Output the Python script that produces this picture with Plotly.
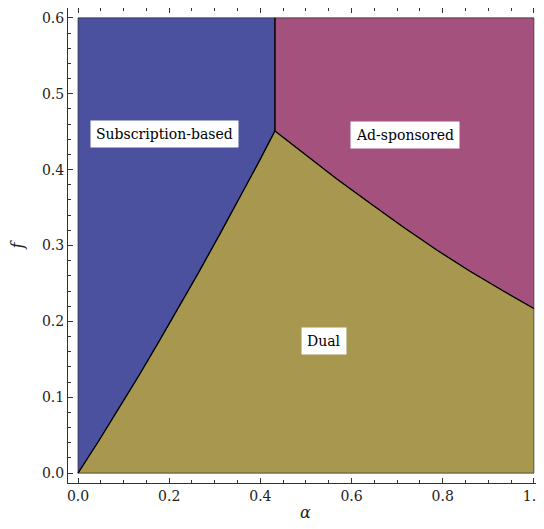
import plotly.graph_objects as go

# Boundary between Subscription-based and Dual (alpha, f)
sub_dual_alpha = [0.0, 0.045, 0.089, 0.134, 0.178, 0.219, 0.265, 0.312, 0.355, 0.393, 0.432]
sub_dual_f = [0.0, 0.042, 0.085, 0.129, 0.174, 0.216, 0.265, 0.316, 0.363, 0.406, 0.451]

# Boundary between Dual and Ad-sponsored
ad_dual_alpha = [0.432, 0.494, 0.567, 0.640, 0.714, 0.787, 0.860, 0.933, 1.0]
ad_dual_f = [0.451, 0.422, 0.388, 0.356, 0.324, 0.294, 0.266, 0.240, 0.217]

# Boundary between Subscription-based and Ad-sponsored (vertical)
sub_ad_alpha = [0.432, 0.432]
sub_ad_f = [0.451, 0.6]

alpha_range = [0.0, 1.0]
f_range = [0.0, 0.6]

labels = ["Subscription-based", "Ad-sponsored", "Dual"]
label_alpha = [0.19, 0.717, 0.539]
label_f = [0.447, 0.446, 0.174]

x_ticks = [0.0, 0.2, 0.4, 0.6, 0.8, 1.0]
x_ticklabels = ["0.0", "0.2", "0.4", "0.6", "0.8", "1.0"]
y_ticks = [0.0, 0.1, 0.2, 0.3, 0.4, 0.5, 0.6]
y_ticklabels = ["0.0", "0.1", "0.2", "0.3", "0.4", "0.5", "0.6"]

BLUE = "#4b519f"
MAGENTA = "#a4517d"
OLIVE = "#a7974f"
EDGE = "rgba(40,40,40,0.7)"
SERIF = "DejaVu Serif"

a0, a1 = alpha_range
f0, f1 = f_range

fig = go.Figure()

# Subscription-based region
bx = sub_dual_alpha + [sub_ad_alpha[1], a0, a0]
by = sub_dual_f + [sub_ad_f[1], f1, f0]
fig.add_trace(go.Scatter(x=bx, y=by, fill="toself", fillcolor=BLUE, mode="lines",
                         line=dict(color=EDGE, width=1), hoverinfo="skip", showlegend=False))

# Ad-sponsored region
mx = ad_dual_alpha + [a1, sub_ad_alpha[1]]
my = ad_dual_f + [f1, f1]
mx.append(mx[0]); my.append(my[0])
fig.add_trace(go.Scatter(x=mx, y=my, fill="toself", fillcolor=MAGENTA, mode="lines",
                         line=dict(color=EDGE, width=1), hoverinfo="skip", showlegend=False))

# Dual region
ox = sub_dual_alpha + ad_dual_alpha[1:] + [a1, a0]
oy = sub_dual_f + ad_dual_f[1:] + [f0, f0]
fig.add_trace(go.Scatter(x=ox, y=oy, fill="toself", fillcolor=OLIVE, mode="lines",
                         line=dict(color=EDGE, width=1), hoverinfo="skip", showlegend=False))

# Boundaries
for xs, ys in [(sub_dual_alpha, sub_dual_f), (ad_dual_alpha, ad_dual_f), (sub_ad_alpha, sub_ad_f)]:
    fig.add_trace(go.Scatter(x=xs, y=ys, mode="lines", line=dict(color="black", width=1.3),
                             hoverinfo="skip", showlegend=False))

for t, xa, ya in zip(labels, label_alpha, label_f):
    fig.add_annotation(x=xa, y=ya, text=t, showarrow=False, bgcolor="white", borderpad=5,
                       font=dict(family=SERIF, size=14, color="black"))

axis_common = dict(showgrid=False, zeroline=False, showline=True, linecolor="#333333",
                   linewidth=1, mirror="allticks", ticks="inside", ticklen=5, tickwidth=1,
                   tickcolor="#333333", ticklabeloverflow="allow",
                   tickfont=dict(family=SERIF, size=14, color="#222"))

fig.update_xaxes(range=[-0.022, 1.02], tickvals=x_ticks, ticktext=x_ticklabels,
                 minor=dict(dtick=0.05, tick0=0, ticks="inside", ticklen=3, tickcolor="#333333"),
                 title=dict(text="<i>α</i>", font=dict(family=SERIF, size=16, color="#222"),
                            standoff=4),
                 **axis_common)
fig.update_yaxes(range=[-0.013, 0.613], tickvals=y_ticks, ticktext=y_ticklabels,
                 minor=dict(dtick=0.02, tick0=0, ticks="inside", ticklen=3, tickcolor="#333333"),
                 title=dict(text="<i>f</i>", font=dict(family=SERIF, size=16, color="#222"),
                            standoff=14),
                 **axis_common)

# page body has an 8px margin; figure is sized/offset to compensate
fig.update_layout(width=536, height=521, margin=dict(l=60, r=1, t=0, b=46, autoexpand=False),
                  plot_bgcolor="white", paper_bgcolor="white")

fig.write_html("out.html")
